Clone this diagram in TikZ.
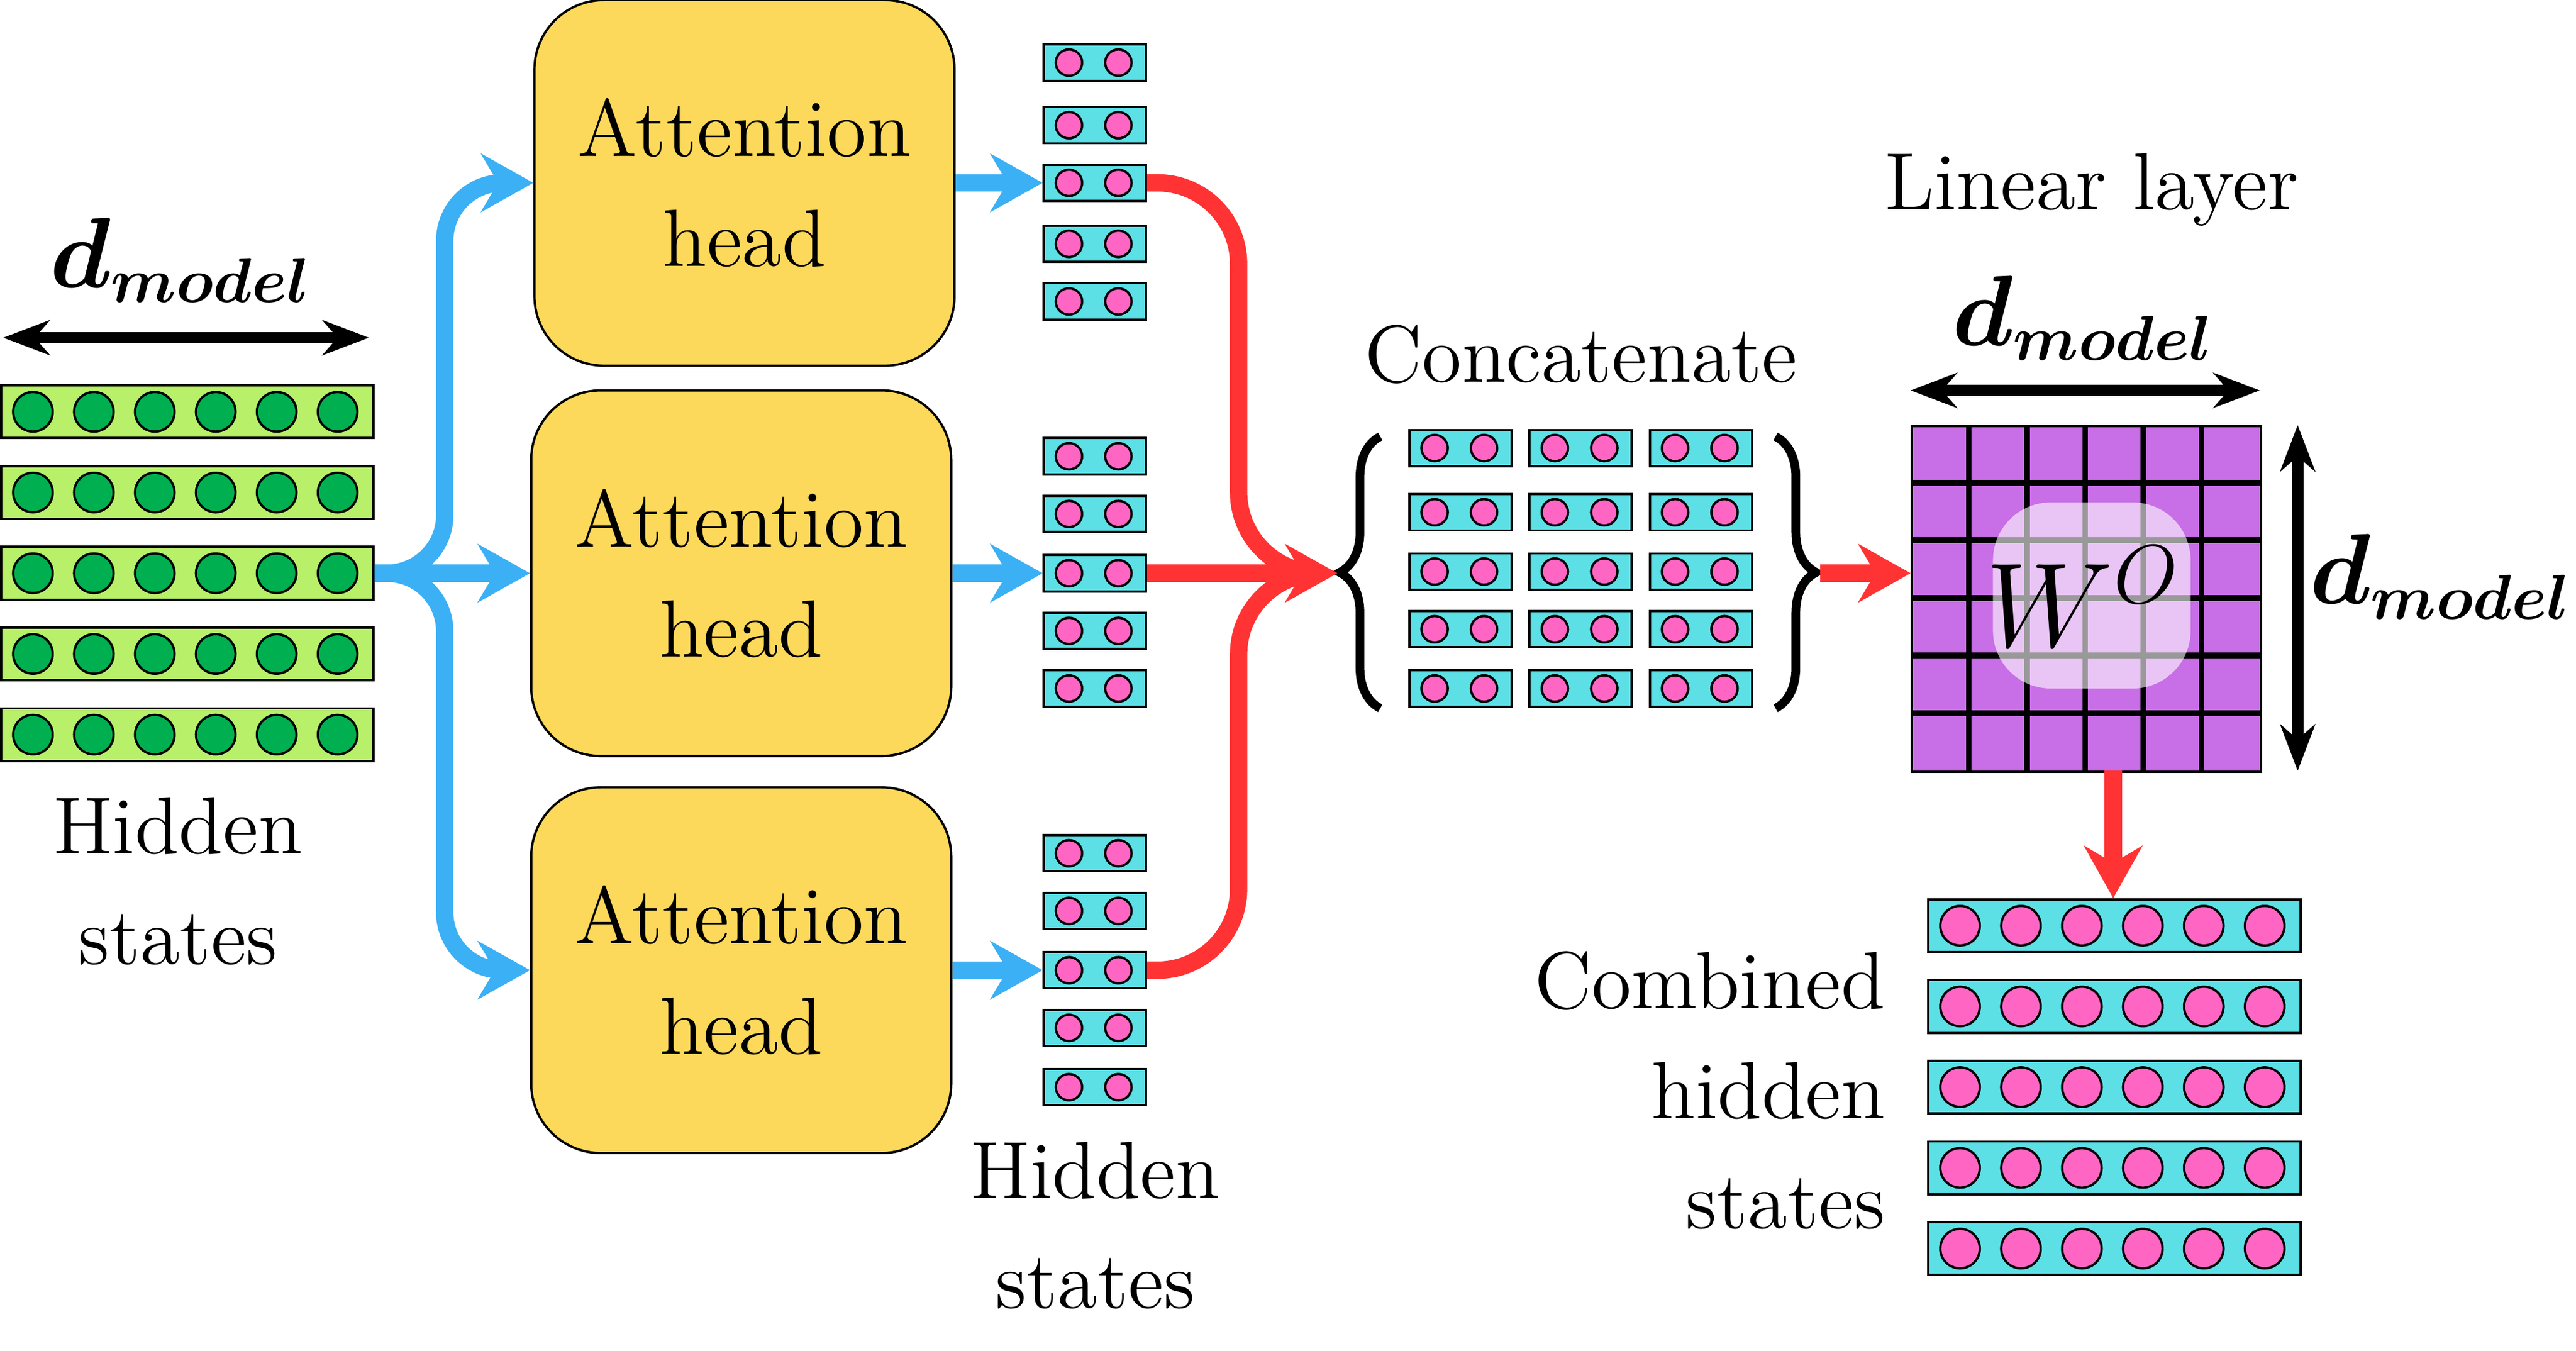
\documentclass[tikz,border=0pt]{standalone}
\usepackage{amsmath,bm}
\usetikzlibrary{arrows.meta,decorations.pathreplacing}
\definecolor{lgreen}{HTML}{B8F06A}
\definecolor{dgreen}{HTML}{00B050}
\definecolor{cyanb}{HTML}{5CE0E6}
\definecolor{pinkc}{HTML}{FF66C4}
\definecolor{yel}{HTML}{FCD95A}
\definecolor{purp}{HTML}{C86EE6}
\definecolor{blu}{HTML}{3BB0F5}
\definecolor{redc}{HTML}{FF3333}
\tikzset{
  big/.style={font=\fontsize{14}{19}\selectfont,align=center},
  dm/.style={font=\fontsize{16}{20}\selectfont},
  head/.style={draw,fill=yel,rounded corners=12pt,minimum width=255*0.01cm,minimum height=222*0.01cm},
  bl/.style={blu,line width=3pt,-{Stealth[length=9pt,width=10pt]},rounded corners=10pt},
  rd/.style={redc,line width=3pt,-{Stealth[length=9pt,width=10pt]},rounded corners=14pt},
  rdl/.style={redc,line width=3pt,rounded corners=14pt},
  bk/.style={black,line width=2pt,{Stealth[length=8pt]}-{Stealth[length=8pt]}},
  br/.style={line width=1.5pt,decorate,decoration={brace,amplitude=7pt}},
}
\newcommand{\smallbar}[3]{%
  \node[draw,fill=cyanb,minimum width=62*0.01cm,minimum height=22*0.01cm,inner sep=0,anchor=west] (#3) at (#1,#2) {};
  \draw[fill=pinkc] (#1+16,#2) circle[radius=8];
  \draw[fill=pinkc] (#1+46,#2) circle[radius=8];}
\newcommand{\bigbar}[5]{%
  \node[draw,fill=#4,minimum width=226*0.01cm,minimum height=32*0.01cm,inner sep=0,anchor=west] (#3) at (#1,#2) {};
  \foreach \k in {0,...,5}{\draw[fill=#5] (#1+20+\k*37,#2) circle[radius=12];}}
\begin{document}
\begin{tikzpicture}[x=0.01cm,y=-0.01cm]
\useasboundingbox (0,0) rectangle (1564,820);
\foreach \y [count=\i] in {250,299,348,397,446}{\bigbar{0}{\y}{L\i}{lgreen}{dgreen}}
\coordinate (la) at (2,205); \coordinate (lb) at (224,205);
\draw[bk] (la) -- (lb);
\node[dm] (ldm) at (110,158) {$\bm{d_{model}}$};
\node[big] (lhs) at (108,535) {Hidden\\states};
\node[head] (h1) at (452,111) {}; \node[big] at (h1) {Attention\\head};
\node[head] (h2) at (450,348) {}; \node[big] at (h2) {Attention\\head};
\node[head] (h3) at (450,589) {}; \node[big] at (h3) {Attention\\head};
\draw[bl] (L3.east) -- (270,348) |- (h1.west);
\draw[bl] (L3.east) -- (h2.west);
\draw[bl] (L3.east) -- (270,348) |- (h3.west);
\foreach \y [count=\i] in {38,76,111,148,183}{\smallbar{633}{\y}{A\i}}
\foreach \y [count=\i] in {277,312,348,383,418}{\smallbar{633}{\y}{B\i}}
\foreach \y [count=\i] in {518,553,589,624,660}{\smallbar{633}{\y}{C\i}}
\draw[bl] (h1.east) -- (A3.west);
\draw[bl] (h2.east) -- (B3.west);
\draw[bl] (h3.east) -- (C3.west);
\node[big] (mhs) at (665,744) {Hidden\\states};
\foreach \y [count=\i] in {272,311,347,382,418}{%
  \smallbar{855}{\y}{P\i}\smallbar{928}{\y}{Q\i}\smallbar{1001}{\y}{R\i}}
\node[big] (cat) at (960,215) {Concatenate};
\coordinate (bl1) at (838,430); \coordinate (bl2) at (838,265);
\draw[br] (bl1) -- (bl2);
\coordinate (br1) at (1078,265); \coordinate (br2) at (1078,430);
\draw[br] (br1) -- (br2);
\coordinate (ct) at (812,348);
\draw[rdl] (A3.east) -- (752,111) -- (752,348) -- (780,348);
\draw[rdl] (C3.east) -- (752,589) -- (752,348) -- (780,348);
\draw[rd] (B3.east) -- (ct);
\coordinate (cr) at (1105,348);
\node[draw,fill=purp,minimum width=212*0.01cm,minimum height=210*0.01cm,inner sep=0,anchor=north west] (M) at (1160,258) {};
\foreach \k in {1,...,5}{
  \draw[line width=1pt] (1160+\k*35.33,258) -- (1160+\k*35.33,468);
  \draw[line width=1pt] (1160,258+\k*35) -- (1372,258+\k*35);}
\fill[white,opacity=0.6,rounded corners=10pt] (1210,305) rectangle (1330,418);
\node[font=\fontsize{22}{24}\selectfont] (W) at (1265,362) {$W^O$};
\draw[rd] (cr) -- (cr -| M.west);
\node[big] (lin) at (1270,115) {Linear layer};
\node[dm] (tdm) at (1265,193) {$\bm{d_{model}}$};
\coordinate (ta) at (1160,237); \coordinate (tb) at (1372,237);
\draw[bk] (ta) -- (tb);
\coordinate (ra) at (1395,258); \coordinate (rb) at (1395,468);
\draw[bk] (ra) -- (rb);
\node[dm] (rdm) at (1482,350) {$\bm{d_{model}}$};
\foreach \y [count=\i] in {562,611,660,709,758}{\bigbar{1170}{\y}{O\i}{cyanb}{pinkc}}
\coordinate (ms) at (1283,468);
\draw[rd] (ms) -- (ms |- O1.north);
\node[big,align=right,anchor=east] (chs) at (1157,662) {Combined\\hidden\\states};
\end{tikzpicture}
\end{document}
